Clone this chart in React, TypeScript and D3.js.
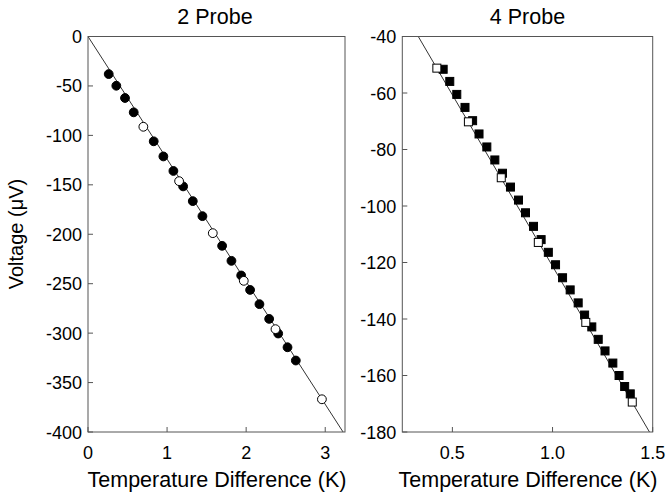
import React from "react";
import * as d3 from "d3";

const leftFilledX = [0.262, 0.358, 0.468, 0.578, 0.831, 0.953, 1.08, 1.203, 1.325, 1.447, 1.696, 1.814, 1.937, 2.05, 2.168, 2.291, 2.405, 2.523, 2.628];
const leftFilledV = [-38, -49.8, -62.2, -76.7, -106, -121.3, -136, -151.6, -166.5, -181.7, -211.7, -226.9, -241.7, -256.3, -270.7, -285.6, -300.4, -314.3, -327.7];
const leftOpenX = [0.70, 1.152, 1.578, 1.97, 2.371, 2.958];
const leftOpenV = [-91.3, -146.3, -198.9, -247.1, -296, -366.9];
const leftSlope = -124;

const rightFilledX = [0.454, 0.487, 0.522, 0.563, 0.601, 0.633, 0.672, 0.712, 0.75, 0.79, 0.83, 0.865, 0.905, 0.943, 0.979, 1.015, 1.05, 1.088, 1.128, 1.16, 1.196, 1.228, 1.262, 1.301, 1.332, 1.36, 1.388];
const rightFilledV = [-51.6, -55.9, -60.5, -65.1, -69.8, -74.5, -79.1, -83.7, -88.4, -93.3, -97.9, -102.4, -107.2, -111.9, -116.4, -120.8, -125.4, -129.7, -134.3, -138.6, -142.8, -147.2, -151.3, -155.6, -160.0, -163.9, -166.5];
const rightOpenX = [0.4225, 0.58, 0.744, 0.929, 1.166, 1.398];
const rightOpenV = [-51.2, -70.2, -90.0, -112.9, -141.2, -169.4];
const rightSlope = -121.3;

const leftXTicks = [0, 1, 2, 3];
const leftYTicks = [0, -50, -100, -150, -200, -250, -300, -350, -400];
const rightXTicks = [0.5, 1.0, 1.5];
const rightYTicks = [-40, -60, -80, -100, -120, -140, -160, -180];

const FONT = "Liberation Sans, Arial, Helvetica, sans-serif";

type PanelProps = {
  id: string;
  title: string;
  titleX: number;
  x0: number; x1: number; y0: number; y1: number;
  xDomain: [number, number]; yDomain: [number, number];
  xTicks: number[]; yTicks: number[]; xFmt: (v: number) => string;
  filledX: number[]; filledV: number[]; openX: number[]; openV: number[];
  slope: number; shape: "circle" | "square";
};

function Panel(p: PanelProps) {
  const x = d3.scaleLinear().domain(p.xDomain).range([p.x0, p.x1]);
  const y = d3.scaleLinear().domain(p.yDomain).range([p.y1, p.y0]);
  const lineX = [0, 5];
  const lineGen = d3.line<number>().x((d) => x(d)).y((d) => y(p.slope * d));
  const tl = 5;
  const mark = (cx: number, cy: number, filled: boolean, key: string) => {
    if (p.shape === "circle") {
      return <circle key={key} cx={cx} cy={cy} r={4.4} fill={filled ? "#000" : "#fff"} stroke="#000" strokeWidth={1} />;
    }
    const s = 8;
    return <rect key={key} x={cx - s / 2} y={cy - s / 2} width={s} height={s} fill={filled ? "#000" : "#fff"} stroke="#000" strokeWidth={1} />;
  };
  const cx = (p.x0 + p.x1) / 2;
  return (
    <g>
      <defs>
        <clipPath id={p.id}>
          <rect x={p.x0} y={p.y0} width={p.x1 - p.x0} height={p.y1 - p.y0} />
        </clipPath>
      </defs>
      <text x={p.titleX} y={24} textAnchor="middle" fontSize={21.5} fontFamily={FONT}>{p.title}</text>
      <g clipPath={`url(#${p.id})`}>
        <path d={lineGen(lineX) || ""} fill="none" stroke="#333" strokeWidth={1} />
        {p.filledX.map((v, i) => mark(x(v), y(p.filledV[i]), true, "f" + i))}
        {p.openX.map((v, i) => mark(x(v), y(p.openV[i]), false, "o" + i))}
      </g>
      <rect x={p.x0} y={p.y0} width={p.x1 - p.x0} height={p.y1 - p.y0} fill="none" stroke="#555" strokeWidth={1} />
      {p.xTicks.map((t) => (
        <g key={"xt" + t}>
          <line x1={x(t)} x2={x(t)} y1={p.y1} y2={p.y1 - tl} stroke="#555" />
          <text x={x(t)} y={p.y1 + 27} textAnchor="middle" fontSize={18} fontFamily={FONT}>{p.xFmt(t)}</text>
        </g>
      ))}
      {p.yTicks.map((t) => (
        <g key={"yt" + t}>
          <line x1={p.x0} x2={p.x0 + tl} y1={y(t)} y2={y(t)} stroke="#555" />
          <text x={p.x0 - 6} y={y(t) + 6.5} textAnchor="end" fontSize={18} fontFamily={FONT}>{t}</text>
        </g>
      ))}
      <text x={cx + 0.5} y={487} textAnchor="middle" fontSize={21.5} fontFamily={FONT}>Temperature Difference (K)</text>
    </g>
  );
}

export default function App() {
  return (
    <svg width={666} height={497} style={{ position: "absolute", left: 0, top: 0, background: "#fff" }}>
      <rect x={0} y={0} width={666} height={497} fill="#fff" />
      <Panel id="cl" title="2 Probe" titleX={215} x0={88} x1={345} y0={36.5} y1={432}
        xDomain={[0, 3.25]} yDomain={[-400, 0]} xTicks={leftXTicks} yTicks={leftYTicks}
        xFmt={(v) => String(v)} filledX={leftFilledX} filledV={leftFilledV}
        openX={leftOpenX} openV={leftOpenV} slope={leftSlope} shape="circle" />
      <Panel id="cr" title="4 Probe" titleX={527.5} x0={402.3} x1={652.7} y0={36.5} y1={432}
        xDomain={[0.25, 1.5]} yDomain={[-180, -40]} xTicks={rightXTicks} yTicks={rightYTicks}
        xFmt={(v) => v.toFixed(1)} filledX={rightFilledX} filledV={rightFilledV}
        openX={rightOpenX} openV={rightOpenV} slope={rightSlope} shape="square" />
      <text transform="translate(23,234) rotate(-90)" textAnchor="middle" fontSize={20} fontFamily={FONT}>
        Voltage (<tspan>μ</tspan>V)
      </text>
    </svg>
  );
}
